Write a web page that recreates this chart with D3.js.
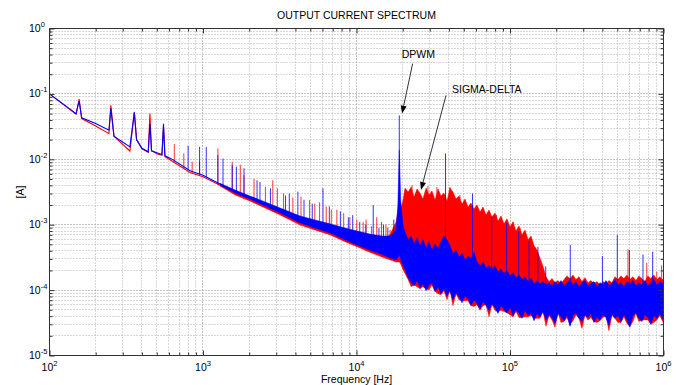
<!DOCTYPE html>
<html>
<head>
<meta charset="utf-8">
<script src="https://cdn.jsdelivr.net/npm/d3@7"></script>
<style>
  body { margin: 0; background: #fff; }
  svg { display: block; font-family: "Liberation Sans", Arial, Helvetica, sans-serif; }
</style>
</head>
<body>
<svg id="chart" width="680" height="385"></svg>
<script>
// ---- data (Hz, A) ----

// low frequency part: one trace per series
const lineF = [100, 149, 156, 162, 200, 244, 251, 263, 288, 334, 357, 369, 400, 440, 451, 462, 500, 540, 553, 565, 640, 823, 1000, 1290];
const blueLine = [0.100, 0.050, 0.078, 0.043, 0.0352, 0.0279, 0.060, 0.0226, 0.0195, 0.0155, 0.052, 0.020, 0.0147, 0.013, 0.035, 0.0135, 0.0126, 0.0118, 0.035, 0.0113, 0.0098, 0.0067, 0.0057, 0.0042];
const redLine = [0.100, 0.049, 0.083, 0.042, 0.0324, 0.0247, 0.067, 0.0226, 0.0185, 0.0134, 0.053, 0.020, 0.0145, 0.0128, 0.050, 0.0135, 0.0122, 0.0115, 0.031, 0.011, 0.0092, 0.0063, 0.0054, 0.0040];

// noise floor band (bottom / top of each series)
const bandF = [1290, 1620, 2020, 2540, 3180, 4290, 5370, 6710, 8410, 10100, 12200, 14700, 16500, 18100, 18600, 19000, 19400, 20100, 20700,
  21700, 22700, 23700, 24800, 25900, 27100, 28400, 29700, 31000, 32500, 34000, 35500, 37100, 38900, 40600, 42500, 44500, 46500, 48700, 50900,
  53200, 55700, 58300, 60900, 63800, 66700, 69800, 73000, 76300, 79800, 83500, 87400, 91400, 95600, 100000, 104600, 109400, 114500, 119700, 125300,
  131000, 137100, 143400, 150000, 156900, 164100, 171700, 179600, 187900, 196500, 205500, 214900, 224800, 235100, 245900, 257200, 269000, 281400, 294300, 307800,
  322000, 336800, 352300, 368500, 385400, 403100, 421600, 441000, 461300, 482500, 504700, 527900, 552100, 577500, 604100, 631800, 660900, 691200, 723000, 756300,
  791000, 827400, 865400, 905200, 946800, 1000000];

const blueHi = [4.3e-3, 3.39e-3, 2.75e-3, 2.23e-3, 1.80e-3, 1.36e-3, 1.18e-3, 1.03e-3, 8.9e-4, 8.0e-4, 7.2e-4, 6.7e-4, 6.7e-4, 8.3e-4, 2.0e-3, 1.38e-2, 2.39e-3, 9.9e-4, 7.8e-4,
  5.9e-4, 6.7e-4, 5.1e-4, 6.3e-4, 4.8e-4, 5.9e-4, 4.4e-4, 5.5e-4, 4.1e-4, 5.1e-4, 4.3e-4, 5.5e-4, 6.7e-4, 5.9e-4, 4.8e-4, 3.6e-4, 4.1e-4, 3.2e-4, 3.7e-4, 2.9e-4,
  3.3e-4, 3.1e-4, 3.8e-4, 2.7e-4, 2.35e-4, 2.7e-4, 2.2e-4, 2.4e-4, 2.05e-4, 2.35e-4, 1.9e-4, 2.1e-4, 1.8e-4, 2.0e-4, 1.65e-4, 1.85e-4, 1.55e-4, 1.7e-4, 1.45e-4, 1.6e-4,
  1.35e-4, 1.5e-4, 1.25e-4, 1.4e-4, 1.25e-4, 1.35e-4, 1.2e-4, 1.3e-4, 1.17e-4, 1.35e-4, 1.2e-4, 1.4e-4, 1.17e-4, 1.3e-4, 1.45e-4, 1.2e-4, 1.35e-4, 1.13e-4, 1.3e-4, 1.4e-4,
  1.17e-4, 1.25e-4, 1.35e-4, 1.13e-4, 1.3e-4, 1.2e-4, 1.4e-4, 1.17e-4, 1.25e-4, 1.45e-4, 1.2e-4, 1.3e-4, 1.13e-4, 1.35e-4, 1.25e-4, 1.4e-4, 1.17e-4, 1.3e-4, 1.2e-4, 1.4e-4,
  1.17e-4, 1.3e-4, 1.45e-4, 1.2e-4, 1.35e-4, 1.25e-4];
const blueLo = [4.04e-3, 3.05e-3, 2.47e-3, 1.93e-3, 1.51e-3, 1.07e-3, 8.9e-4, 7.5e-4, 5.9e-4, 4.9e-4, 4.1e-4, 3.5e-4, 3.1e-4, 2.9e-4, 3.1e-4, 3.5e-4, 2.9e-4, 2.35e-4, 2.05e-4,
  1.55e-4, 1.3e-4, 1.17e-4, 1.4e-4, 1.09e-4, 1.25e-4, 9.8e-5, 1.2e-4, 1.3e-4, 9.5e-5, 1.13e-4, 8.8e-5,
  1.05e-4, 8.2e-5, 9.8e-5, 7.1e-5, 9.1e-5, 7.9e-5, 6.4e-5, 8.2e-5, 7.4e-5, 5.8e-5, 7.1e-5, 6.2e-5,
  5.2e-5, 6.7e-5, 5.8e-5, 4.9e-5, 6.2e-5, 5.4e-5, 4.4e-5, 5.8e-5, 5.0e-5, 4.5e-5, 5.4e-5, 4.1e-5,
  5.0e-5, 4.4e-5, 3.7e-5, 4.9e-5, 4.1e-5, 4.5e-5, 3.4e-5, 4.4e-5, 3.9e-5, 4.7e-5, 3.5e-5, 4.2e-5,
  3.8e-5, 3.1e-5, 4.4e-5, 3.9e-5, 3.4e-5, 4.2e-5, 2.8e-5, 4.1e-5, 4.5e-5, 3.7e-5, 3.3e-5, 4.2e-5,
  3.8e-5, 4.4e-5, 3.2e-5, 3.9e-5, 3.5e-5, 4.2e-5, 3.8e-5, 2.9e-5, 4.4e-5, 3.7e-5, 4.1e-5, 3.3e-5,
  4.2e-5, 3.5e-5, 2.7e-5, 4.1e-5, 4.5e-5, 3.7e-5, 3.3e-5, 4.2e-5, 3.8e-5, 3.0e-5, 4.1e-5, 3.7e-5, 4.4e-5, 3.5e-5];
const redHi = [4.19e-3, 3.16e-3, 2.56e-3, 2.0e-3, 1.57e-3, 1.18e-3, 9.9e-4, 8.3e-4, 7.0e-4, 5.9e-4, 5.5e-4, 5.9e-4, 7.0e-4, 1.10e-3, 1.57e-3, 2.0e-3, 1.68e-3, 2.39e-3, 3.64e-3,
  3.16e-3, 3.77e-3, 2.65e-3, 3.51e-3, 3.05e-3, 2.47e-3, 3.64e-3, 2.85e-3, 3.27e-3, 2.39e-3, 3.51e-3, 2.75e-3, 3.05e-3, 2.3e-3, 3.64e-3, 3.16e-3, 2.47e-3, 2.75e-3, 2.07e-3, 2.47e-3,
  1.87e-3, 2.15e-3, 1.74e-3, 2.0e-3, 1.57e-3, 1.87e-3, 1.41e-3, 1.68e-3, 1.31e-3, 1.51e-3, 1.14e-3, 1.36e-3, 1.03e-3, 1.23e-3, 9.3e-4, 1.10e-3, 8.0e-4, 9.6e-4, 7.0e-4, 8.3e-4,
  5.9e-4, 6.7e-4, 4.8e-4, 4.1e-4, 3.1e-4, 2.3e-4, 1.6e-4, 1.35e-4, 1.5e-4, 1.3e-4, 1.4e-4, 1.25e-4, 1.45e-4, 1.65e-4, 1.5e-4, 1.7e-4, 1.45e-4, 1.6e-4, 1.35e-4, 1.55e-4,
  1.3e-4, 1.4e-4, 1.25e-4, 1.35e-4, 1.2e-4, 1.35e-4, 1.25e-4, 1.4e-4, 1.3e-4, 1.6e-4, 1.45e-4, 1.65e-4, 1.5e-4, 1.7e-4, 1.45e-4, 1.6e-4, 1.4e-4, 1.65e-4, 1.5e-4, 1.35e-4,
  1.65e-4, 1.5e-4, 1.7e-4, 1.45e-4, 1.6e-4, 1.4e-4];
const redLo = [3.9e-3, 2.85e-3, 2.3e-3, 1.80e-3, 1.41e-3, 9.9e-4, 8.3e-4, 7.0e-4, 5.5e-4, 4.6e-4, 3.8e-4, 3.2e-4, 2.9e-4, 2.7e-4, 2.7e-4, 2.7e-4, 2.5e-4, 2.05e-4, 1.8e-4,
  1.45e-4, 1.13e-4, 1.2e-4, 1.13e-4, 1.05e-4, 1.13e-4, 1.05e-4, 1.01e-4, 1.2e-4, 9.5e-5, 8.8e-5, 8.5e-5,
  9.8e-5, 7.1e-5, 1.01e-4, 5.8e-5, 8.8e-5, 7.1e-5, 6.9e-5, 6.9e-5, 6.9e-5, 5.8e-5, 5.6e-5, 6.0e-5,
  4.9e-5, 5.8e-5, 6.0e-5, 3.9e-5, 6.0e-5, 4.9e-5, 4.7e-5, 4.9e-5, 4.7e-5, 4.5e-5, 4.2e-5, 3.9e-5,
  4.7e-5, 3.8e-5, 3.8e-5, 3.9e-5, 3.9e-5, 4.1e-5, 3.7e-5, 3.7e-5, 3.7e-5, 4.7e-5, 2.8e-5, 4.1e-5,
  3.5e-5, 2.7e-5, 4.5e-5, 3.2e-5, 3.3e-5, 3.8e-5, 3.0e-5, 3.4e-5, 4.2e-5, 3.7e-5, 2.6e-5, 4.1e-5,
  3.5e-5, 3.8e-5, 3.3e-5, 3.2e-5, 3.4e-5, 3.8e-5, 4.1e-5, 2.4e-5, 4.1e-5, 3.7e-5, 3.2e-5, 3.2e-5,
  3.9e-5, 3.1e-5, 2.8e-5, 3.3e-5, 4.4e-5, 3.3e-5, 3.5e-5, 3.5e-5, 3.5e-5, 3.0e-5, 3.2e-5, 3.5e-5, 4.1e-5, 3.1e-5];

// spectral lines sticking out of the floor
const redSpikeF = [650, 750, 850, 950, 1250, 1550, 1750, 1850, 2150, 2550, 2850, 3050, 3350, 3850, 4350, 4950, 5350, 5750, 6350, 6850,
  7450, 8250, 9050, 10050, 11050, 11550, 12550, 13550, 14550, 15550, 16550, 17850,
  23000, 29200, 33400, 40600, 47200, 60700, 66700, 81800, 104600, 116200, 128400,
  587000, 778000, 904000, 973000];
const redSpikeA = [0.0171, 0.0123, 0.0092, 0.0092, 0.0147, 0.0092, 0.0082, 0.0057, 0.0050, 0.0038, 0.0048, 0.0036, 0.0030, 0.0026, 0.0027, 0.0024, 0.0021, 0.0022, 0.0019, 0.0017,
  0.0017, 0.0015, 0.0013, 0.0012, 0.0011, 0.0012, 0.00095, 0.0013, 0.0011, 0.0010, 0.00083, 0.00094,
  4.04e-3, 3.9e-3, 3.77e-3, 3.77e-3, 2.85e-3, 2.0e-3, 1.8e-3, 1.41e-3, 1.10e-3, 8.9e-4, 6.7e-4,
  4.2e-4, 2.6e-4, 1.9e-4, 2.4e-4];
const blueSpikeF = [800, 950, 1050, 1250, 1350, 1550, 1650, 1850, 2250, 2350, 2750, 3450, 3650, 4150, 4550, 5150, 6050, 6650, 7850, 8850,
  9450, 10500, 11500, 12850, 14000, 15000, 16000, 17500, 19000, 38000, 57000, 76000, 95000, 114000, 133000, 152000, 171000, 247000, 400000, 500000,
  600000, 735000, 850000];
const blueSpikeA = [0.0161, 0.0155, 0.0155, 0.0116, 0.0103, 0.0082, 0.0077, 0.0073, 0.0048, 0.0045, 0.0036, 0.0028, 0.0030, 0.0032, 0.0024, 0.0021, 0.0036, 0.0019, 0.0016, 0.0013,
  0.0014, 0.0011, 0.0010, 0.0020, 0.0009, 0.0010, 0.0009, 0.0012, 0.047, 0.0123, 0.0030, 0.00133, 0.00106, 0.00079, 5.6e-4, 4.6e-4, 2.3e-4, 4.9e-4, 3.3e-4, 7.0e-4,
  4.1e-4, 3.5e-4, 3.85e-4];

const xTicks = [1e2, 1e3, 1e4, 1e5, 1e6];
const yTicks = [1e-5, 1e-4, 1e-3, 1e-2, 1e-1, 1];

// annotation: label position, arrow tail and arrow tip (Hz, A)
const notes = [
  { text: 'DPWM',        at: [19700, 0.355], tail: [23200, 0.29],  tip: [19800, 0.050] },
  { text: 'SIGMA-DELTA', at: [41900, 0.104], tail: [38300, 0.095], tip: [26300, 0.0034] }
];

// ---- drawing ----
const svg = d3.select('#chart');
const x = d3.scaleLog().domain([1e2, 1e6]).range([49.5, 663.5]);
const y = d3.scaleLog().domain([1e-5, 1]).range([355.5, 28.5]);
const [x0, x1] = x.range();
const [y1, y0] = y.range();

function minors(lo, hi) {
  const out = [];
  for (let e = lo; e < hi; e++) for (let k = 2; k <= 9; k++) out.push(k * Math.pow(10, e));
  return out;
}
const xMinor = minors(2, 6);
const yMinor = minors(-5, 0);
const crisp = (v) => Math.round(v - 0.5) + 0.5;

// grid
const grid = svg.append('g');
grid.selectAll('.gx').data(xMinor.concat(xTicks.slice(1, -1))).join('line')
  .attr('x1', (d) => crisp(x(d))).attr('x2', (d) => crisp(x(d)))
  .attr('y1', y0).attr('y2', y1)
  .attr('stroke', (d) => xTicks.includes(d) ? '#8a8a8a' : '#b0b0b0')
  .attr('stroke-dasharray', '1,2');
grid.selectAll('.gy').data(yMinor.concat(yTicks.slice(1, -1))).join('line')
  .attr('y1', (d) => crisp(y(d))).attr('y2', (d) => crisp(y(d)))
  .attr('x1', x0).attr('x2', x1)
  .attr('stroke', (d) => yTicks.includes(d) ? '#8a8a8a' : '#b0b0b0')
  .attr('stroke-dasharray', '1,2');

svg.append('clipPath').attr('id', 'plot')
  .append('rect').attr('x', x0).attr('y', y0).attr('width', x1 - x0).attr('height', y1 - y0);
const plot = svg.append('g').attr('clip-path', 'url(#plot)');

const area = d3.area().x((d) => x(d.f)).y0((d) => y(d.lo)).y1((d) => y(d.hi));
const line = d3.line().x((d) => x(d.f)).y((d) => y(d.v));

function drawSeries(color, traceV, lo, hi, spikeF, spikeA) {
  const band = bandF.map((f, i) => ({ f, lo: lo[i], hi: hi[i] }));
  plot.append('path').datum(band)
    .attr('d', area)
    .attr('fill', color).attr('stroke', color).attr('stroke-width', 0.5)
    .attr('stroke-linejoin', 'round');
  plot.append('path').datum(lineF.map((f, i) => ({ f, v: traceV[i] })))
    .attr('d', line)
    .attr('fill', 'none').attr('stroke', color).attr('stroke-width', 1.1);
  // spikes start from the floor of the same series
  const base = d3.scaleLog()
    .domain(lineF.slice(0, -1).concat(bandF))
    .range(traceV.slice(0, -1).concat(lo).map(y));
  plot.selectAll(null).data(spikeF.map((f, i) => ({ f, v: spikeA[i] }))).join('line')
    .attr('x1', (d) => x(d.f)).attr('x2', (d) => x(d.f))
    .attr('y1', (d) => base(d.f)).attr('y2', (d) => y(d.v))
    .attr('stroke', color).attr('stroke-width', 1).attr('stroke-opacity', 0.8);
}
drawSeries('#ff0000', redLine, redLo, redHi, redSpikeF, redSpikeA);
drawSeries('#0000ff', blueLine, blueLo, blueHi, blueSpikeF, blueSpikeA);

// axes: ticks inside on all four sides
function ticks(axis, vals, size, transform) {
  svg.append('g').attr('transform', transform)
    .call(axis.tickValues(vals).tickSize(size).tickFormat(''))
    .call((g) => g.select('.domain').remove())
    .call((g) => g.selectAll('line').attr('stroke', '#333'));
}
ticks(d3.axisBottom(x), xMinor, -3, `translate(0,${y1})`);
ticks(d3.axisBottom(x), xTicks, -5, `translate(0,${y1})`);
ticks(d3.axisTop(x), xMinor, -3, `translate(0,${y0})`);
ticks(d3.axisTop(x), xTicks, -5, `translate(0,${y0})`);
ticks(d3.axisLeft(y), yMinor, -3, `translate(${x0},0)`);
ticks(d3.axisLeft(y), yTicks, -5, `translate(${x0},0)`);
ticks(d3.axisRight(y), yMinor, -3, `translate(${x1},0)`);
ticks(d3.axisRight(y), yTicks, -5, `translate(${x1},0)`);

svg.append('rect')
  .attr('x', x0).attr('y', y0).attr('width', x1 - x0).attr('height', y1 - y0)
  .attr('fill', 'none').attr('stroke', '#333').attr('stroke-width', 1);

// tick labels as 10^n
const exp = (d) => String(Math.round(Math.log10(d)));
const xl = svg.selectAll('.xl').data(xTicks).join('text')
  .attr('x', (d) => x(d)).attr('y', 371)
  .attr('text-anchor', 'middle').attr('font-size', 10.5).attr('fill', '#000');
xl.append('tspan').text('10');
xl.append('tspan').attr('dy', -5).attr('font-size', 7.5).text(exp);

const yl = svg.selectAll('.yl').data(yTicks).join('text')
  .attr('x', 29).attr('y', (d) => y(d) + 3.5)
  .attr('font-size', 10.5).attr('fill', '#000');
yl.append('tspan').text('10');
yl.append('tspan').attr('dy', -5).attr('font-size', 7.5).text(exp);

svg.append('text').attr('x', (x0 + x1) / 2).attr('y', 19)
  .attr('text-anchor', 'middle').attr('font-size', 10.5).text('OUTPUT CURRENT SPECTRUM');
svg.append('text').attr('x', (x0 + x1) / 2).attr('y', 382.5)
  .attr('text-anchor', 'middle').attr('font-size', 10.5).text('Frequency [Hz]');
svg.append('text').attr('transform', `translate(24,${(y0 + y1) / 2}) rotate(-90)`)
  .attr('text-anchor', 'middle').attr('font-size', 10.5).text('[A]');

// annotations with arrows
notes.forEach((n) => {
  const [tx, ty] = [x(n.tail[0]), y(n.tail[1])];
  const [hx, hy] = [x(n.tip[0]), y(n.tip[1])];
  const ang = Math.atan2(hy - ty, hx - tx);
  const L = 8, Wd = 3;
  const bx = hx - L * Math.cos(ang), by = hy - L * Math.sin(ang);
  svg.append('line').attr('x1', tx).attr('y1', ty).attr('x2', bx).attr('y2', by)
    .attr('stroke', '#000').attr('stroke-width', 0.8);
  svg.append('path')
    .attr('d', `M${hx},${hy}L${bx + Wd * Math.sin(ang)},${by - Wd * Math.cos(ang)}L${bx - Wd * Math.sin(ang)},${by + Wd * Math.cos(ang)}Z`)
    .attr('fill', '#000');
  svg.append('text').attr('x', x(n.at[0])).attr('y', y(n.at[1]))
    .attr('font-size', 10.5).text(n.text);
});
</script>
</body>
</html>
